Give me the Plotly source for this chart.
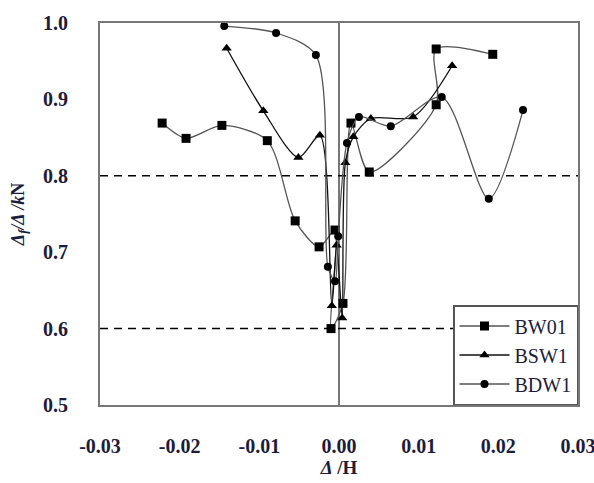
import plotly.graph_objects as go

# ---- data ----
bw01_x = [-0.0222, -0.0192, -0.0147, -0.0090, -0.0055, -0.0025, -0.0005, -0.0010, 0.0005, 0.0015, 0.0038, 0.0122, 0.0122, 0.0193]
bw01_y = [0.869, 0.849, 0.866, 0.846, 0.741, 0.707, 0.729, 0.600, 0.633, 0.869, 0.805, 0.893, 0.966, 0.959]

bsw1_x = [-0.0141, -0.0095, -0.0051, -0.0024, -0.0009, -0.0003, 0.0004, 0.0008, 0.0018, 0.0040, 0.0093, 0.0142]
bsw1_y = [0.967, 0.885, 0.824, 0.853, 0.630, 0.709, 0.614, 0.817, 0.851, 0.875, 0.877, 0.944]

bdw1_x = [-0.0144, -0.0079, -0.0029, -0.0014, -0.0005, -0.0001, 0.0010, 0.0025, 0.0065, 0.0129, 0.0188, 0.0231]
bdw1_y = [0.996, 0.987, 0.958, 0.681, 0.662, 0.721, 0.843, 0.877, 0.865, 0.903, 0.770, 0.886]

ref_levels = [0.8, 0.6]

x_ticks = [-0.03, -0.02, -0.01, 0.0, 0.01, 0.02, 0.03]
x_ticktext = ["-0.03", "-0.02", "-0.01", "0.00", "0.01", "0.02", "0.03"]
y_ticks = [0.5, 0.6, 0.7, 0.8, 0.9, 1.0]
y_ticktext = ["0.5", "0.6", "0.7", "0.8", "0.9", "1.0"]

TICK_COLOR = "#1c1c3c"
FONT = "Liberation Serif"

fig = go.Figure()

# dashed reference lines
for lv in ref_levels:
    fig.add_trace(go.Scatter(
        x=[x_ticks[0], x_ticks[-1]], y=[lv, lv], mode="lines",
        line=dict(color="black", width=1.5, dash="8px,6px"),
        showlegend=False, hoverinfo="skip"))

fig.add_trace(go.Scatter(
    x=bw01_x, y=bw01_y, name="BW01", mode="lines+markers",
    line=dict(color="#555555", width=1.3, shape="spline", smoothing=0.8),
    marker=dict(symbol="square", size=9, color="black")))
fig.add_trace(go.Scatter(
    x=bsw1_x, y=bsw1_y, name="BSW1", mode="lines+markers",
    line=dict(color="#111111", width=1.3, shape="spline", smoothing=0.8),
    marker=dict(symbol="triangle-up", size=9, color="black")))
fig.add_trace(go.Scatter(
    x=bdw1_x, y=bdw1_y, name="BDW1", mode="lines+markers",
    line=dict(color="#555555", width=1.3, shape="spline", smoothing=0.8),
    marker=dict(symbol="circle", size=8, color="black")))

fig.update_layout(
    width=594, height=483,
    margin=dict(l=100, r=16, t=23, b=78),
    paper_bgcolor="white", plot_bgcolor="white",
    font=dict(family=FONT, color=TICK_COLOR),
    showlegend=True,
    legend=dict(
        x=1, y=0, xanchor="right", yanchor="bottom",
        bgcolor="white", bordercolor="#555555", borderwidth=1.5,
        font=dict(family=FONT, size=20, color=TICK_COLOR),
        itemwidth=50, tracegroupgap=0,
    ),
    xaxis=dict(
        range=[-0.03, 0.03], tickvals=x_ticks, ticktext=x_ticktext,
        showgrid=False, zeroline=True, zerolinecolor="#777777", zerolinewidth=1.5,
        showline=True, linecolor="#777777", linewidth=2, mirror=True,
        ticks="", ticklabelstandoff=22, ticklabeloverflow="allow", automargin=False,
        tickfont=dict(family=FONT, size=20, color=TICK_COLOR, weight="bold"),
        title=dict(text="<i>Δ</i> /H", font=dict(family=FONT, size=19, color=TICK_COLOR, weight="bold"), standoff=4),
    ),
    yaxis=dict(
        range=[0.5, 1.0], tickvals=y_ticks, ticktext=y_ticktext,
        showgrid=False, zeroline=False,
        showline=True, linecolor="#777777", linewidth=2, mirror=True,
        ticks="", ticklabelstandoff=26, ticklabeloverflow="allow", automargin=False,
        tickfont=dict(family=FONT, size=20, color=TICK_COLOR, weight="bold"),
        title=dict(text="<i>Δ<sub>f</sub>/Δ /k</i>N", font=dict(family=FONT, size=18, color=TICK_COLOR, weight="bold"), standoff=14),
    ),
)

fig.write_html("out.html")
